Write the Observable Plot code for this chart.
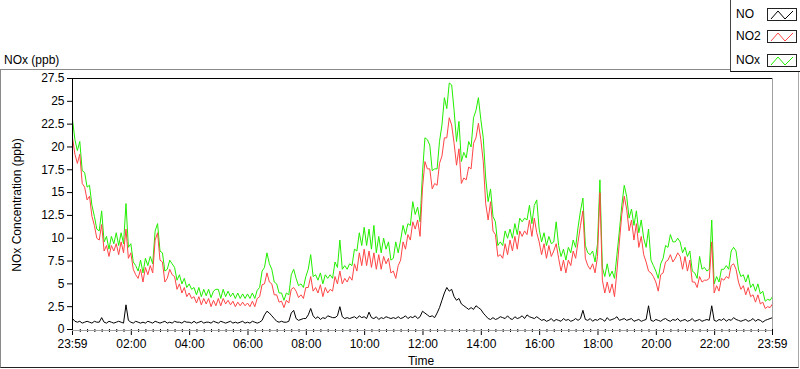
<!DOCTYPE html>
<html><head><meta charset="utf-8">
<script src="https://cdn.jsdelivr.net/npm/d3@7"></script>
<script src="https://cdn.jsdelivr.net/npm/@observablehq/plot@0.6"></script>
<style>
body{margin:0;background:#fff;font-family:"Liberation Sans",Arial,sans-serif;}
#wrap{position:relative;width:800px;height:369px;overflow:hidden;background:#fff;}
#chart{position:absolute;left:0;top:0;}
.abs{position:absolute;font-size:12px;color:#000;white-space:nowrap;line-height:14px;}
.sw{position:absolute;left:766px;width:30px;height:13px;border:1px solid #222;box-sizing:border-box;background:#fff;}
</style></head><body>
<div id="wrap">
  <div id="chart"></div>
  <div style="position:absolute;left:0;top:69px;width:797px;height:297px;border-top:1px solid #8a8a8a;border-left:1px solid #8a8a8a;border-right:1px solid #a8a8a8;border-bottom:1px solid #222;"></div>
  <div class="abs" style="left:4px;top:53px;">NOx (ppb)</div>
  <div class="abs" style="left:421px;top:354px;transform:translateX(-50%);">Time</div>
  <div class="abs" style="left:17px;top:205px;transform:translate(-50%,-50%) rotate(-90deg);">NOx Concentration (ppb)</div>
  <div id="legend" style="position:absolute;left:730px;top:0;width:70px;height:72px;background:#fff;border-left:1px solid #444;border-bottom:1px solid #111;box-sizing:border-box;"></div>
</div>
<script>
// ---- data: 5-minute readings from 23:59 to 23:59 (ppb) ----
const seriesNames = ["NO", "NO2", "NOx"];
const seriesColors = ["#000000", "#ff4545", "#22ee00"];
const startLabel = "23:59";
const stepMinutes = 5;

const NO = [
1.2,0.9,0.8,0.9,0.7,0.8,0.9,0.8,0.7,0.9,0.8,0.8,
1.3,0.8,0.7,0.9,0.8,0.7,0.8,0.9,0.8,0.7,2.7,1.0,
0.8,0.7,0.9,0.8,0.7,0.8,0.7,0.9,0.8,0.7,0.9,0.8,
0.7,0.8,0.9,0.7,0.8,0.7,0.9,0.8,0.8,0.7,0.9,0.8,
0.8,0.7,0.9,0.7,0.8,0.9,0.7,0.8,0.8,0.7,0.9,0.8,
0.7,0.9,0.8,0.7,0.8,0.9,0.7,0.8,0.7,0.8,0.9,0.7,
0.8,0.7,0.9,0.8,0.7,0.8,1.0,1.6,2.0,1.8,1.5,1.2,
0.9,0.8,0.9,0.8,0.8,0.9,1.8,2.1,1.2,1.0,1.1,1.2,
1.2,1.6,2.3,1.5,1.2,1.4,1.1,1.3,1.2,1.5,1.4,1.3,
1.3,1.5,2.5,1.4,1.2,1.3,1.2,1.3,1.4,1.2,1.5,1.3,
1.4,1.2,1.9,1.3,1.2,1.4,1.1,1.3,1.2,1.4,1.3,1.2,
1.3,1.2,1.4,1.2,1.3,1.5,1.2,1.4,1.3,1.5,1.2,1.4,
2.0,1.8,1.6,1.4,1.5,1.3,1.8,2.4,3.2,4.0,4.6,4.2,
4.4,3.6,3.2,3.4,2.8,2.6,2.4,2.2,2.4,2.2,2.6,2.4,
2.2,1.8,1.5,1.2,1.1,1.3,1.1,1.2,1.4,1.3,1.2,1.5,
1.2,1.1,1.4,1.2,1.3,1.5,1.2,1.6,1.4,1.3,1.2,1.4,
1.2,1.0,1.1,0.9,1.0,1.2,0.9,1.1,1.0,0.9,1.2,1.0,
1.1,0.9,1.0,1.2,1.0,1.2,2.1,1.1,1.0,1.2,0.9,1.1,
1.0,1.2,1.1,0.9,1.3,1.0,1.1,1.2,1.4,1.0,1.1,1.2,
1.0,1.1,1.2,0.9,1.0,1.1,0.9,1.0,1.1,2.6,1.0,0.9,
1.1,1.0,0.9,1.1,1.2,1.0,0.9,1.1,1.0,1.2,0.9,1.0,
1.1,0.9,1.0,1.2,0.9,1.0,1.1,0.9,1.0,1.1,1.0,2.6,
1.0,0.9,1.1,1.0,1.2,0.9,1.1,1.0,1.3,1.1,1.0,0.9,
1.0,1.1,0.9,1.0,1.2,0.9,1.1,1.0,0.8,1.0,1.1,1.2,
1.3];

const NO2 = [
21.0,19.2,18.2,19.2,16.0,15.6,14.2,14.6,12.4,11.4,10.0,9.8,
11.5,8.6,9.2,8.0,9.2,8.6,9.4,8.2,9.6,8.4,11.0,7.8,
8.4,6.6,6.0,5.6,6.6,5.2,6.8,6.0,7.0,6.2,9.8,10.6,
7.6,7.4,5.2,5.6,6.6,6.0,5.8,4.4,5.0,4.0,4.6,3.6,
4.0,3.4,3.6,2.9,3.6,2.7,3.4,2.8,3.4,2.5,3.2,2.6,
3.4,2.6,3.4,2.8,3.2,2.7,3.1,2.5,3.0,2.6,3.0,2.6,
2.9,2.5,3.1,2.5,3.4,3.6,4.9,5.0,6.2,5.2,5.0,3.8,
3.8,3.0,3.1,2.4,3.2,2.9,4.4,4.6,4.2,3.5,3.8,3.4,
4.6,4.6,5.8,4.2,4.6,4.0,4.9,3.6,4.6,4.0,4.4,4.2,
5.8,5.0,6.4,5.0,5.6,5.2,5.8,5.4,7.2,6.4,8.4,7.0,
8.8,7.0,8.6,6.8,8.4,6.6,8.2,6.6,8.0,7.2,7.8,6.2,
6.4,5.6,7.0,7.6,9.6,8.8,10.4,9.8,11.8,11.0,12.0,10.2,
15.5,18.4,17.6,17.6,15.4,16.0,15.8,18.2,19.0,21.0,21.0,23.2,
22.4,20.4,18.0,19.8,16.0,16.6,16.4,17.8,17.6,20.4,21.0,22.6,
20.8,18.4,13.8,12.0,14.0,10.8,10.4,8.0,8.2,7.8,9.4,8.2,
9.8,8.6,10.2,8.8,10.8,10.2,10.8,10.4,12.0,10.2,12.2,10.6,
9.6,8.2,9.4,7.8,9.2,8.0,8.6,9.4,7.8,6.4,7.6,6.2,
7.6,7.0,8.6,7.8,9.6,11.4,13.0,7.8,7.0,6.6,7.2,6.2,
8.0,15.0,5.4,4.0,5.2,4.0,5.0,3.6,6.4,9.6,12.6,14.6,
13.2,10.8,12.0,9.8,11.6,9.0,10.2,8.2,7.4,6.4,6.2,5.8,
5.2,4.2,6.0,6.2,7.4,7.6,8.2,7.4,7.8,8.4,8.0,6.6,
8.0,6.4,7.6,5.2,5.2,4.6,5.8,5.2,5.4,5.4,5.6,9.6,
4.0,4.8,4.2,5.6,5.4,5.8,5.6,7.0,7.2,6.6,5.2,4.4,
4.8,3.8,4.6,3.6,3.8,3.0,3.8,2.8,3.0,2.3,2.5,2.4,
2.8];

const NOx = [
23.0,20.8,19.6,20.6,17.4,17.2,15.6,15.8,13.6,12.4,11.0,10.8,
13.0,9.6,10.2,8.8,10.2,9.4,10.6,9.2,10.6,9.4,13.8,9.0,
9.4,7.4,7.0,6.4,7.6,6.2,7.8,7.0,8.0,7.2,10.8,11.6,
8.6,8.4,6.4,6.6,7.6,7.2,6.8,5.4,6.0,5.0,5.6,4.6,
5.0,4.4,4.6,3.8,4.6,3.6,4.4,3.7,4.4,3.5,4.2,4.4,
4.4,3.4,4.4,3.6,4.2,3.6,4.0,3.4,4.0,3.4,3.9,3.4,
3.9,3.4,4.0,3.4,4.3,4.6,6.4,6.8,8.4,7.2,6.6,5.2,
5.0,4.0,4.0,3.2,4.0,3.8,6.0,6.6,5.6,4.8,5.0,4.6,
5.8,6.6,8.2,5.8,6.0,5.4,6.2,5.0,6.0,5.6,6.0,5.6,
7.4,6.8,9.8,6.6,7.0,6.6,7.2,7.0,8.8,8.6,10.6,9.2,
11.2,9.2,11.0,8.8,11.4,8.4,10.2,8.4,10.0,8.8,9.6,7.6,
7.8,9.6,8.4,9.8,11.4,10.4,11.6,11.4,14.0,12.6,13.4,11.8,
17.2,21.0,20.8,20.2,17.4,17.6,17.6,20.6,22.4,25.4,24.2,27.0,
26.8,24.0,20.6,22.8,18.4,19.4,18.8,20.6,20.0,23.2,24.0,25.4,
23.0,21.0,16.6,14.0,15.4,12.4,11.8,9.2,9.6,9.2,10.8,10.0,
11.0,10.0,11.6,10.4,12.2,11.8,12.2,12.0,13.6,11.6,13.6,14.2,
11.0,9.6,10.6,9.2,10.2,9.4,9.6,11.8,9.2,8.0,8.8,7.6,
9.0,8.4,9.8,9.0,11.2,13.0,14.4,9.2,8.4,8.2,8.6,7.4,
9.4,16.4,6.8,5.8,7.2,5.8,6.4,5.6,8.2,10.8,13.6,15.8,
14.6,12.2,13.2,11.4,13.0,10.6,12.0,10.0,9.0,11.0,7.6,7.0,
6.4,5.6,7.2,7.8,9.2,9.0,10.4,9.6,9.6,10.0,9.6,8.4,
9.0,8.0,8.6,6.4,6.2,5.6,8.0,6.6,6.8,6.4,6.6,12.0,
5.0,5.8,5.2,6.6,6.6,7.0,6.6,8.6,9.0,8.6,6.6,5.8,
6.0,5.2,6.0,4.6,5.0,4.2,5.0,3.9,4.2,3.1,3.3,3.2,
3.6];

const xTickLabels = ["23:59","02:00","04:00","06:00","08:00","10:00","12:00","14:00","16:00","18:00","20:00","22:00","23:59"];
const yTicks = [0,2.5,5,7.5,10,12.5,15,17.5,20,22.5,25,27.5];
const yDomain = [0, 27.5];

// ---- build ----
const [sh, sm] = startLabel.split(":").map(Number);
const start = new Date(Date.UTC(2020, 0, 1, sh, sm));
const rows = NO2.map((v, i) => ({
  time: new Date(+start + i * stepMinutes * 60000),
  NO: NO[i], NO2: v, NOx: NOx[i]
}));
const end = rows[rows.length - 1].time;

const majorTicks = xTickLabels.map((lab, i) => {
  if (i === 0) return start;
  if (i === xTickLabels.length - 1) return end;
  const [h, m] = lab.split(":").map(Number);
  return new Date(Date.UTC(2020, 0, 2, h, m));
});
const minorTicks = d3.utcMinute.every(15).range(start, end)
  .filter(d => !(d.getUTCMinutes() === 0 && d.getUTCHours() % 2 === 0));
const fmt = d3.utcFormat("%H:%M");

const chart = Plot.plot({
  width: 800, height: 369,
  marginLeft: 72, marginRight: 28, marginTop: 78, marginBottom: 40,
  style: {fontFamily: '"Liberation Sans", Arial, sans-serif', fontSize: "12px", background: "transparent", color: "#000", overflow: "visible"},
  x: {type: "utc", domain: [start, end]},
  y: {domain: yDomain},
  marks: [
    Plot.axisY({ticks: yTicks, tickSize: 5, tickPadding: 3, tickFormat: d => String(d), label: null}),
    Plot.axisX({ticks: minorTicks, tickSize: 3, tickFormat: () => "", label: null}),
    Plot.axisX({ticks: majorTicks, tickSize: 6, tickPadding: 4, tickFormat: d => fmt(d), label: null}),
    Plot.lineY(rows, {x: "time", y: "NOx", stroke: seriesColors[2], strokeWidth: 1}),
    Plot.lineY(rows, {x: "time", y: "NO2", stroke: seriesColors[1], strokeWidth: 1}),
    Plot.lineY(rows, {x: "time", y: "NO", stroke: seriesColors[0], strokeWidth: 1}),
    Plot.ruleY([yDomain[1]], {stroke: "#000"}),
    Plot.ruleX([start], {stroke: "#000"}),
    Plot.ruleY([yDomain[0]], {stroke: "#a0a0a0", dy: 1}),
    Plot.ruleX([end], {stroke: "#a0a0a0"})
  ]
});
document.getElementById("chart").appendChild(chart);

// legend
const legend = document.getElementById("legend");
const rowTops = [7, 29, 53];
seriesNames.forEach((name, i) => {
  const t = document.createElement("div");
  t.className = "abs";
  t.style.left = "5px";
  t.style.top = rowTops[i] + "px";
  t.textContent = name;
  legend.appendChild(t);
  const sw = document.createElement("div");
  sw.className = "sw";
  sw.style.left = "36px";
  sw.style.top = (rowTops[i] + 1) + "px";
  sw.innerHTML = `<svg width="28" height="11" style="display:block"><polyline points="3,10 10,2 17,10 25,2" fill="none" stroke="${seriesColors[i]}" stroke-width="1"/></svg>`;
  legend.appendChild(sw);
});
</script>
</body></html>
